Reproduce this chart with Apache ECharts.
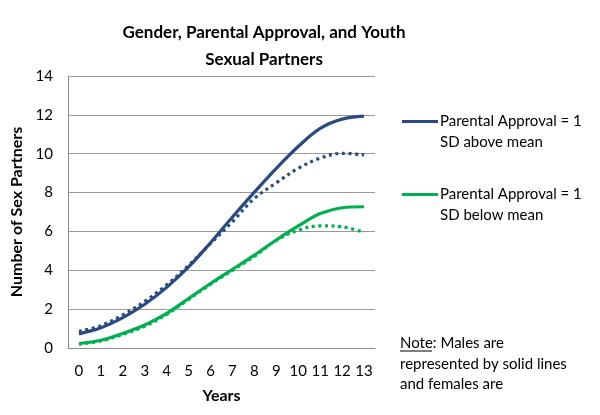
<!DOCTYPE html>
<html><head><meta charset="utf-8">
<script src="https://cdn.jsdelivr.net/npm/echarts@6/dist/echarts.min.js"></script>
<style>html,body{margin:0;padding:0;background:#fff}#c{width:600px;height:415px}</style>
</head><body><div id="c"></div>
<script>
const years = ['0','1','2','3','4','5','6','7','8','9','10','11','12','13'];
const yTicks = [0, 2, 4, 6, 8, 10, 12, 14];
const highMale   = [0.73, 1.04, 1.56, 2.25, 3.12, 4.17, 5.42, 6.74, 8.02, 9.25, 10.37, 11.30, 11.78, 11.93];
const highFemale = [0.85, 1.15, 1.70, 2.40, 3.25, 4.25, 5.38, 6.50, 7.70, 8.50, 9.25, 9.77, 10.02, 9.94];
const lowMale    = [0.23, 0.40, 0.75, 1.18, 1.78, 2.55, 3.32, 4.05, 4.78, 5.56, 6.28, 6.92, 7.22, 7.27];
const lowFemale  = [0.20, 0.36, 0.70, 1.12, 1.72, 2.50, 3.28, 4.00, 4.72, 5.55, 6.06, 6.29, 6.24, 5.95];
const legendNames = ['Parental Approval = 1 SD above mean', 'Parental Approval = 1 SD below mean'];
const titleText = 'Gender, Parental Approval, and Youth\nSexual Partners';

const BLUE = '#2A4A82', GREEN = '#00B050';
const FONT = 'Lato';
const chart = echarts.init(document.getElementById('c'), null, {renderer: 'canvas'});
const dots = [3, 3.6];
chart.setOption({
  animation: false,
  backgroundColor: '#fff',
  title: {
    text: titleText, left: 264, top: 19, textAlign: 'center', padding: 0,
    textStyle: {fontFamily: FONT, fontWeight: 'bold', fontSize: 17, color: '#000', lineHeight: 27}
  },
  legend: {
    orient: 'vertical', left: 402, top: 90, itemWidth: 36, itemHeight: 3, itemGap: 10, padding: 0,
    icon: 'rect', data: legendNames,
    formatter: function (n) { const i = n.indexOf(' SD'); return ' \n' + n.slice(0, i) + '\n' + n.slice(i + 1); },
    textStyle: {fontFamily: FONT, fontSize: 15, color: '#000', lineHeight: 21, padding: [0, 0, 0, -3]}
  },
  grid: {left: 68, right: 225, top: 76, bottom: 67},
  xAxis: {
    type: 'category', data: years, boundaryGap: true,
    name: 'Years', nameLocation: 'middle', nameGap: 40,
    nameTextStyle: {fontFamily: FONT, fontWeight: 'bold', fontSize: 16, color: '#000'},
    axisLine: {lineStyle: {color: '#8c8c8c', width: 1}},
    axisTick: {show: false},
    axisLabel: {fontFamily: FONT, fontSize: 15, color: '#000', margin: 16, interval: 0}
  },
  yAxis: {
    type: 'value', min: yTicks[0], max: yTicks[yTicks.length - 1], interval: 2,
    name: 'Number of Sex Partners', nameLocation: 'middle', nameGap: 35, nameRotate: 90,
    nameTextStyle: {fontFamily: FONT, fontWeight: 'bold', fontSize: 16, color: '#000'},
    axisLine: {show: true, lineStyle: {color: '#8c8c8c', width: 1}},
    axisTick: {show: false},
    axisLabel: {fontFamily: FONT, fontSize: 15, color: '#000', margin: 15},
    splitLine: {lineStyle: {color: '#9a9a9a', width: 1}}
  },
  series: [
    {name: legendNames[0], type: 'line', data: highMale, smooth: 0.35, symbol: 'none', color: BLUE,
     lineStyle: {color: BLUE, width: 3.2}},
    {name: 'Females, above mean', type: 'line', data: highFemale, smooth: 0.35, symbol: 'none', color: BLUE,
     lineStyle: {color: BLUE, width: 3.2, type: dots}},
    {name: legendNames[1], type: 'line', data: lowMale, smooth: 0.35, symbol: 'none', color: GREEN,
     lineStyle: {color: GREEN, width: 3.2}},
    {name: 'Females, below mean', type: 'line', data: lowFemale, smooth: 0.35, symbol: 'none', color: GREEN,
     lineStyle: {color: GREEN, width: 3.2, type: dots}}
  ],
  graphic: [
    {type: 'text', left: 400, top: 333, style: {text: 'Note: Males are\nrepresented by solid lines\nand females are',
      font: '15px ' + FONT, fill: '#000', lineHeight: 20.5}},
    {type: 'line', shape: {x1: 400, y1: 351, x2: 432, y2: 351}, style: {stroke: '#000', lineWidth: 1}}
  ]
});
</script></body></html>
